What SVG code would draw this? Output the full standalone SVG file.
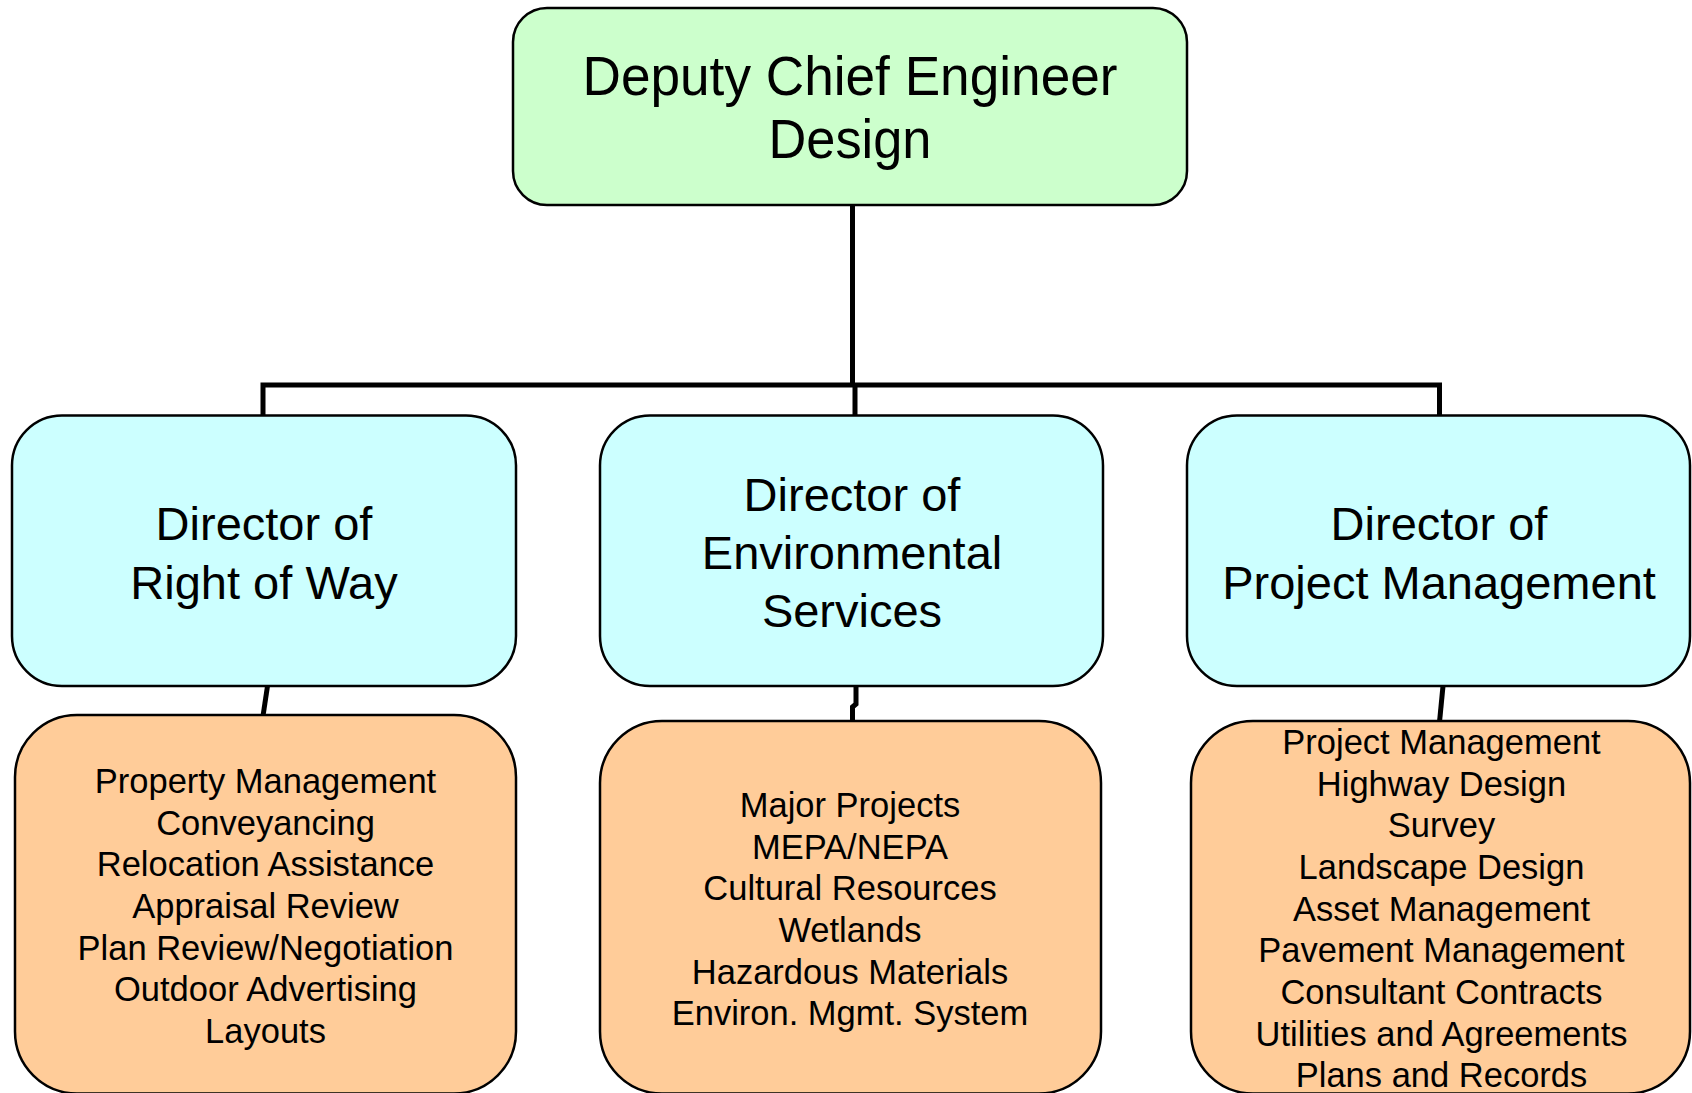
<svg xmlns="http://www.w3.org/2000/svg" width="1692" height="1093" viewBox="0 0 1692 1093">
<style>
.box{stroke:#000;stroke-width:2.5}
.top{fill:#CCFFCC}
.mid{fill:#CCFFFF}
.bot{fill:#FFCC99}
text{font-family:"Liberation Sans",Arial,sans-serif;fill:#000;text-anchor:middle}
.t1{font-size:56px}
.t2{font-size:47px}
.t3{font-size:34.5px}
.conn{fill:none;stroke:#000;stroke-width:5}
</style>
<rect width="1692" height="1093" fill="#fff"/>
<g id="connectors">
<path class="conn" d="M852.5,205 V385 M263,418 V385 H1439.5 V418 M855,385 V418"/>
<path class="conn" d="M267.5,686 L263,716"/>
<path class="conn" d="M856,686 V704 L852.5,707 V722"/>
<path class="conn" d="M1443,686 L1439.5,722"/>
</g>
<g id="n-deputy">
<rect class="box top" x="513" y="8" width="674" height="197" rx="34"/>
<text class="t1" x="850" y="95" textLength="535" lengthAdjust="spacingAndGlyphs">Deputy Chief Engineer</text>
<text class="t1" x="850" y="158" textLength="163" lengthAdjust="spacingAndGlyphs">Design</text>
</g>
<g id="n-row">
<rect class="box mid" x="12" y="415.5" width="504" height="270.5" rx="50"/>
<text class="t2" x="264" y="540">Director of</text>
<text class="t2" x="264" y="599">Right of Way</text>
</g>
<g id="n-env">
<rect class="box mid" x="600" y="415.5" width="503" height="270.5" rx="50"/>
<text class="t2" x="852" y="511">Director of</text>
<text class="t2" x="852" y="569">Environmental</text>
<text class="t2" x="852" y="627">Services</text>
</g>
<g id="n-pm">
<rect class="box mid" x="1187" y="415.5" width="503" height="270.5" rx="50"/>
<text class="t2" x="1439" y="540">Director of</text>
<text class="t2" x="1439" y="599">Project Management</text>
</g>
<g id="n-row-units">
<rect class="box bot" x="15" y="715" width="501" height="378.5" rx="62"/>
<text class="t3" x="265.5" y="793">Property Management</text>
<text class="t3" x="265.5" y="835">Conveyancing</text>
<text class="t3" x="265.5" y="876">Relocation Assistance</text>
<text class="t3" x="265.5" y="918">Appraisal Review</text>
<text class="t3" x="265.5" y="960">Plan Review/Negotiation</text>
<text class="t3" x="265.5" y="1001">Outdoor Advertising</text>
<text class="t3" x="265.5" y="1043">Layouts</text>
</g>
<g id="n-env-units">
<rect class="box bot" x="600" y="721" width="501" height="372.5" rx="62"/>
<text class="t3" x="850" y="817">Major Projects</text>
<text class="t3" x="850" y="859">MEPA/NEPA</text>
<text class="t3" x="850" y="900">Cultural Resources</text>
<text class="t3" x="850" y="942">Wetlands</text>
<text class="t3" x="850" y="984">Hazardous Materials</text>
<text class="t3" x="850" y="1025">Environ. Mgmt. System</text>
</g>
<g id="n-pm-units">
<rect class="box bot" x="1191" y="721" width="499" height="372.5" rx="62"/>
<text class="t3" x="1441.5" y="754">Project Management</text>
<text class="t3" x="1441.5" y="796">Highway Design</text>
<text class="t3" x="1441.5" y="837">Survey</text>
<text class="t3" x="1441.5" y="879">Landscape Design</text>
<text class="t3" x="1441.5" y="921">Asset Management</text>
<text class="t3" x="1441.5" y="962">Pavement Management</text>
<text class="t3" x="1441.5" y="1004">Consultant Contracts</text>
<text class="t3" x="1441.5" y="1046">Utilities and Agreements</text>
<text class="t3" x="1441.5" y="1087">Plans and Records</text>
</g>
</svg>
